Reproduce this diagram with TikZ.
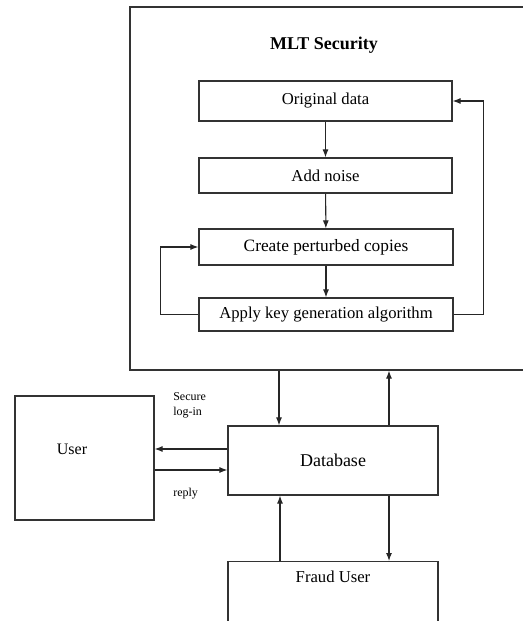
\documentclass[tikz,border=0pt]{standalone}
\usepackage{fontspec}
\setmainfont{Liberation Serif}
\usetikzlibrary{calc,arrows.meta}
\begin{document}
\begin{tikzpicture}[x=0.75pt,y=-0.75pt,>={Latex[length=6pt,width=4.5pt]},
stepbox/.style={draw=black!80,rectangle,line width=0.9pt,minimum width=189.75pt,minimum height=27pt,inner sep=0pt,font=\fontsize{12.5}{14}\selectfont},
bigbox/.style={draw=black!80,rectangle,line width=0.9pt,inner sep=0pt},
conn/.style={->,line width=0.8pt,black!85},
smalltext/.style={font=\fontsize{9}{11}\selectfont,align=left,anchor=west,inner sep=0pt}]
\useasboundingbox (0,0) rectangle (522,621);
% MLT security block (runs off the right edge)
\draw (327,188.5) node[bigbox,minimum width=295.5pt,minimum height=272.25pt] (mlt) {};
\draw (324,45) node[font=\fontsize{13.5}{15}\selectfont\bfseries] (title) {MLT Security};
\draw (325.5,101) node[stepbox,minimum height=30pt] (orig) {Original data};
\draw (325.5,175.5) node[stepbox,minimum height=26.25pt] (noise) {Add noise};
\draw (326,247) node[stepbox,minimum width=190.5pt,font=\fontsize{13}{14}\selectfont] (copies) {Create perturbed copies};
\draw (326,314.5) node[stepbox,minimum width=190.5pt,minimum height=24.75pt] (keygen) {Apply key generation algorithm};
\draw[conn] (orig) -- (noise);
\draw[conn] (noise) -- (copies);
\draw[conn] (copies) -- (keygen);
\draw[conn] (keygen.west) -- ++(-38,0) |- (copies.west);
\draw[conn] (keygen.east) -- ++(30,0) |- (orig.east);

% user, database, fraud user
\draw (84.5,458) node[bigbox,minimum width=104.25pt,minimum height=93pt] (user) {};
\draw (72,449) node[font=\fontsize{12}{14}\selectfont] (usertxt) {User};
\draw (333,460.5) node[bigbox,minimum width=157.5pt,minimum height=51.75pt,font=\fontsize{13.5}{15}\selectfont] (db) {Database};
\draw (333,561) node[bigbox,anchor=north,minimum width=157.5pt,minimum height=56.25pt] (fraud) {};
\draw (333,577) node[font=\fontsize{12.5}{14}\selectfont] (fraudtxt) {Fraud User};

\coordinate (dbin) at ($(db.north)+(-54,0)$);
\coordinate (dbout) at ($(db.north)+(56,0)$);
\draw[conn] (dbin |- mlt.south) -- (dbin);
\draw[conn] (dbout) -- (dbout |- mlt.south);
\coordinate (frin) at ($(db.south)+(-53,0)$);
\coordinate (frout) at ($(db.south)+(56,0)$);
\draw[conn] (frin |- fraud.north) -- (frin);
\draw[conn] (frout) -- (frout |- fraud.north);

\coordinate (toU) at ($(db.west)+(0,-11.5)$);
\coordinate (toD) at ($(db.west)+(0,9.5)$);
\draw[conn] (toU) -- (toU -| user.east);
\draw[conn] (toD -| user.east) -- (toD);
\draw (173,405) node[smalltext] (login) {Secure\\log-in};
\draw (173,494) node[smalltext] (reply) {reply};
\end{tikzpicture}
\end{document}
